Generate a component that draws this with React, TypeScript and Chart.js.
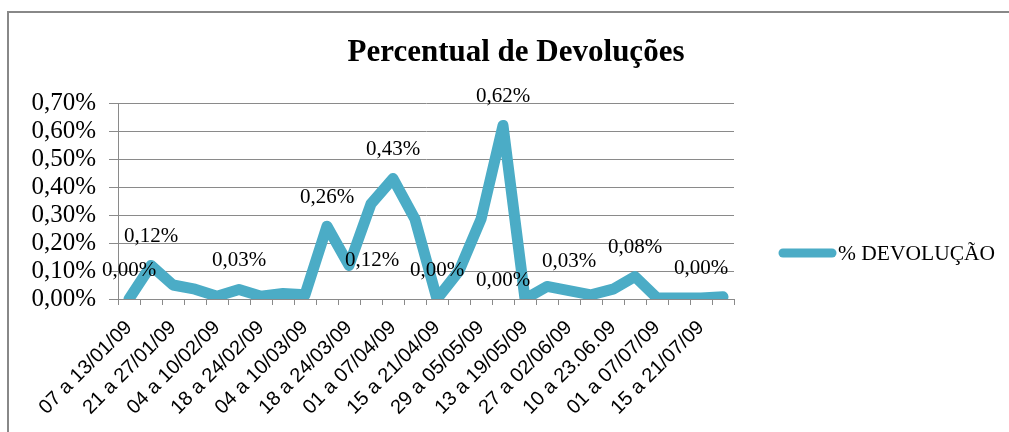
import React, { useEffect, useRef } from "react";
import { Chart, registerables } from "chart.js";

Chart.register(...registerables);

const chartTitle = "Percentual de Devoluções";
const seriesName = "% DEVOLUÇÃO";

const weeks = [
  "07 a 13/01/09", "14 a 20/01/09", "21 a 27/01/09", "28/01 a 03/02/09",
  "04 a 10/02/09", "11 a 17/02/09", "18 a 24/02/09", "25/02 a 03/03/09",
  "04 a 10/03/09", "11 a 17/03/09", "18 a 24/03/09", "25 a 31/03/09",
  "01 a 07/04/09", "08 a 14/04/09", "15 a 21/04/09", "22 a 28/04/09",
  "29 a 05/05/09", "06 a 12/05/09", "13 a 19/05/09", "20 a 26/05/09",
  "27 a 02/06/09", "03 a 09/06/09", "10 a 23.06.09", "24 a 30/06/09",
  "01 a 07/07/09", "08 a 14/07/09", "15 a 21/07/09", "22 a 28/07/09",
];

// % devolução per week (percent units)
const devolucao = [
  0.0, 0.12, 0.05, 0.035, 0.01, 0.034, 0.01, 0.02,
  0.015, 0.26, 0.12, 0.34, 0.43, 0.285, 0.0, 0.1,
  0.285, 0.62, 0.0, 0.045, 0.03, 0.015, 0.035, 0.08,
  0.004, 0.004, 0.004, 0.008,
];

// points that carry a data label
const labelledPoints = [0, 1, 5, 9, 10, 12, 14, 17, 18, 20, 23, 26];

const yMax = 0.7;
const yStep = 0.1;

const fmtPct = (v: number) => v.toFixed(2).replace(".", ",") + "%";

const LINE_COLOR = "#4BACC6";
const GRID_COLOR = "#8a8a8a";
const SERIF = '"Liberation Serif", "Times New Roman", serif';
const SANS = '"Liberation Sans", Arial, sans-serif';

const labelOffsets: Record<number, { dx: number; dy: number }> = {
  10: { dx: 23, dy: -5 },
  18: { dx: -22, dy: -19 },
};

const pointLabelsPlugin = {
  id: "pointLabels",
  afterDatasetsDraw(chart: any) {
    const meta = chart.getDatasetMeta(0);
    const ctx = chart.ctx;
    ctx.save();
    ctx.font = `21px ${SERIF}`;
    ctx.fillStyle = "#000";
    ctx.textAlign = "center";
    ctx.textBaseline = "middle";
    labelledPoints.forEach((i) => {
      const pt = meta.data[i];
      if (!pt) return;
      const off = labelOffsets[i] || { dx: 0, dy: -29 };
      ctx.fillText(fmtPct(devolucao[i]), pt.x + off.dx, pt.y + off.dy);
    });
    ctx.restore();
  },
};

const titleLegendPlugin = {
  id: "titleLegend",
  afterDraw(chart: any) {
    const ctx = chart.ctx;
    ctx.save();
    // title
    ctx.font = `bold 31px ${SERIF}`;
    ctx.fillStyle = "#000";
    ctx.textAlign = "center";
    ctx.textBaseline = "middle";
    ctx.fillText(chartTitle, 516, 53);
    // legend
    ctx.strokeStyle = LINE_COLOR;
    ctx.lineWidth = 9;
    ctx.lineCap = "round";
    ctx.beginPath();
    ctx.moveTo(783, 253);
    ctx.lineTo(832, 253);
    ctx.stroke();
    ctx.font = `21.5px ${SERIF}`;
    ctx.textAlign = "left";
    ctx.fillText(seriesName, 838, 254);
    ctx.restore();
  },
};

export default function App() {
  const canvasRef = useRef<HTMLCanvasElement | null>(null);

  useEffect(() => {
    if (!canvasRef.current) return;
    const chart = new Chart(canvasRef.current, {
      type: "line",
      data: {
        labels: weeks,
        datasets: [
          {
            label: seriesName,
            data: devolucao,
            borderColor: LINE_COLOR,
            backgroundColor: LINE_COLOR,
            borderWidth: 11,
            borderJoinStyle: "round",
            borderCapStyle: "round",
            pointRadius: 0,
            pointHoverRadius: 0,
            tension: 0,
            clip: 0,
          } as any,
        ],
      },
      options: {
        responsive: false,
        animation: false,
        layout: { padding: { top: 103, right: 275, left: 0, bottom: 0 } },
        plugins: {
          legend: { display: false },
          title: { display: false },
          tooltip: { enabled: false },
        },
        scales: {
          x: {
            type: "category",
            offset: true,
            grid: {
              offset: true,
              drawOnChartArea: false,
              drawTicks: true,
              tickLength: 6,
              color: GRID_COLOR,
            },
            border: { display: true, color: GRID_COLOR, width: 1 },
            ticks: {
              autoSkip: false,
              minRotation: 45,
              maxRotation: 45,
              padding: 11,
              color: "#000",
              font: { family: SANS, size: 20 },
              callback: (_v: any, index: number) =>
                index % 2 === 0 ? weeks[index] : "",
            },
            afterFit: (scale: any) => {
              scale.height = 133;
            },
          },
          y: {
            min: 0,
            max: yMax,
            grid: {
              color: GRID_COLOR,
              tickLength: 9,
              drawTicks: true,
            },
            border: { display: true, color: GRID_COLOR, width: 1 },
            ticks: {
              stepSize: yStep,
              autoSkip: false,
              padding: 13,
              color: "#000",
              font: { family: SERIF, size: 25, lineHeight: 0.9 },
              callback: (v: any) => fmtPct(Number(v)),
            },
            afterFit: (scale: any) => {
              scale.width = 118;
            },
          },
        },
      },
      plugins: [pointLabelsPlugin, titleLegendPlugin],
    });
    return () => chart.destroy();
  }, []);

  return (
    <div
      style={{
        position: "fixed",
        left: 0,
        top: 0,
        width: 1009,
        height: 432,
        background: "#fff",
        overflow: "hidden",
      }}
    >
      <canvas ref={canvasRef} width={1009} height={432} style={{ display: "block" }} />
      <div
        style={{
          position: "absolute",
          left: 7,
          top: 11,
          width: 1002,
          height: 421,
          borderLeft: "2px solid #888",
          borderTop: "2px solid #888",
          boxSizing: "border-box",
          pointerEvents: "none",
        }}
      />
    </div>
  );
}
